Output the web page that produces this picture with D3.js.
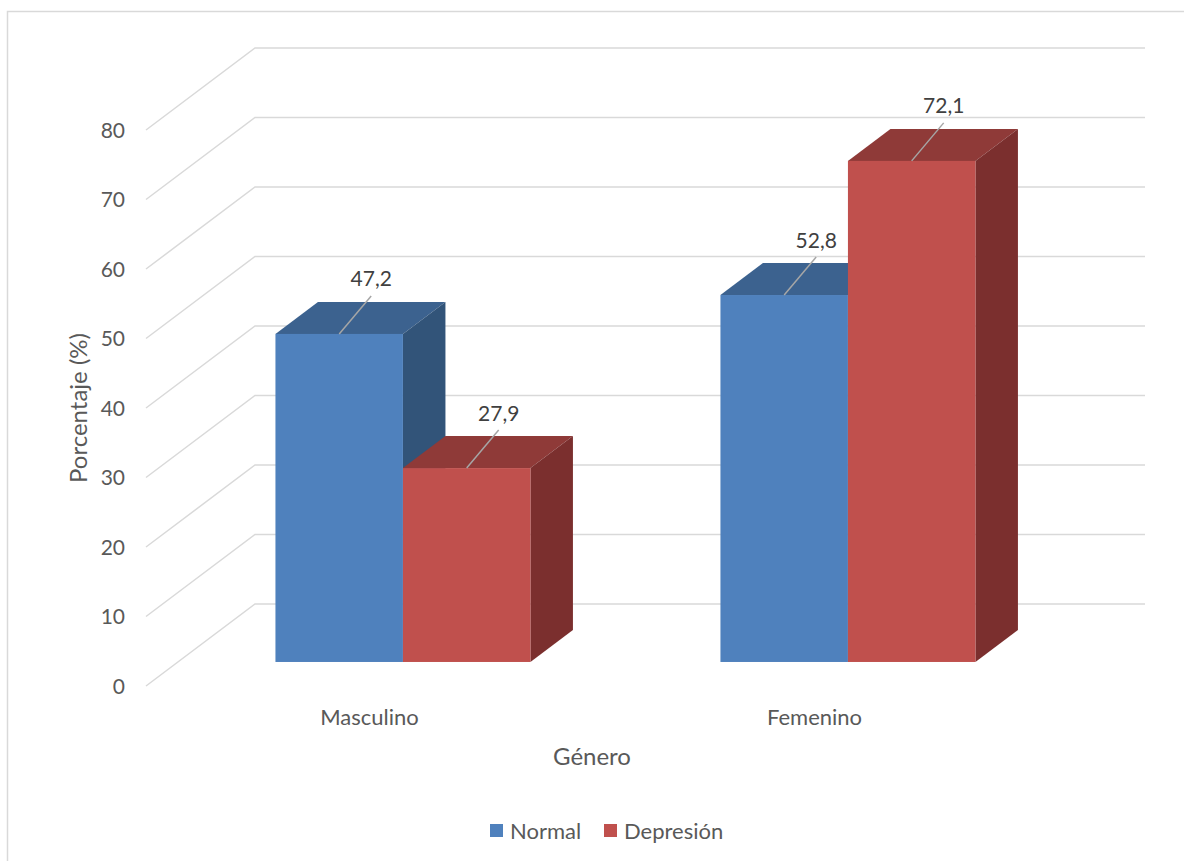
<!DOCTYPE html>
<html>
<head>
<meta charset="utf-8">
<script src="https://cdn.jsdelivr.net/npm/d3@7"></script>
<style>
  body { margin: 0; background: #fff; }
  svg text { font-family: Lato, "Noto Sans", sans-serif; }
</style>
</head>
<body>
<div id="chart"></div>
<script>
// data
var categories = ["Masculino", "Femenino"];
var seriesNames = ["Normal", "Depresión"];
var normalVals = [47.2, 52.8];
var depresionVals = [27.9, 72.1];
var yTicks = [0, 10, 20, 30, 40, 50, 60, 70, 80];

var W = 1184, H = 861;
var colors = {
  "Normal":    {front: "#4f81bd", top: "#3c628f", side: "#325479"},
  "Depresión": {front: "#c0504d", top: "#8f3a38", side: "#7b2f2e"}
};

// 3d look: full depth of the floor and where the bars sit in it
var DX = 109, DY = -82;
var f0 = 0.293, f1 = 0.683;

var svg = d3.select("#chart").append("svg")
    .attr("width", W)
    .attr("height", H);

// chart border
svg.append("rect")
    .attr("x", 7.5).attr("y", 11.5)
    .attr("width", W + 20).attr("height", H + 20)
    .attr("fill", "none")
    .attr("stroke", "#d9d9d9")
    .attr("stroke-width", 1.5);

var y = d3.scaleLinear().domain([0, 80]).range([686, 130]);
var x0 = d3.scaleBand().domain(categories).range([148.5, 1038.5]);
var x1 = d3.scaleBand().domain(seriesNames).range([0, x0.bandwidth() * 0.573]);
var groupOff = (x0.bandwidth() - x1.range()[1]) / 2;

var fmt = d3.formatLocale({decimal: ",", thousands: ".", grouping: [3], currency: ["", ""]}).format(".1f");

// gridlines (side wall + back wall)
svg.append("g").selectAll("polyline")
    .data(yTicks)
    .enter().append("polyline")
    .attr("points", function(d){
        var yy = y(d);
        return [[146, yy], [146 + DX, yy + DY], [1145, yy + DY]].join(" ");
    })
    .attr("fill", "none")
    .attr("stroke", "#d9d9d9")
    .attr("stroke-width", 1.5);

// y tick labels
svg.append("g").selectAll("text")
    .data(yTicks)
    .enter().append("text")
    .attr("x", 125)
    .attr("y", function(d){ return y(d); })
    .attr("dy", "0.36em")
    .attr("text-anchor", "end")
    .attr("font-size", 21)
    .attr("fill", "#595959")
    .text(function(d){ return d; });

// bars
var data = [];
categories.forEach(function(c, i){
    data.push({cat: c, s: "Normal", v: normalVals[i]});
    data.push({cat: c, s: "Depresión", v: depresionVals[i]});
});

var bars = svg.append("g");
data.forEach(function(d){
    var xl = x0(d.cat) + groupOff + x1(d.s) + DX * f0;
    var xr = xl + x1.bandwidth();
    var base = y(0) + DY * f0;
    var top = y(d.v) + DY * f0;
    var ddx = DX * (f1 - f0), ddy = DY * (f1 - f0);
    var c = colors[d.s];
    var g = bars.append("g");
    // top face
    g.append("polygon")
        .attr("points", [[xl, top], [xr, top], [xr + ddx, top + ddy], [xl + ddx, top + ddy]].join(" "))
        .attr("fill", c.top);
    // side face
    g.append("polygon")
        .attr("points", [[xr, top], [xr + ddx, top + ddy], [xr + ddx, base + ddy], [xr, base]].join(" "))
        .attr("fill", c.side);
    // front face
    g.append("rect")
        .attr("x", xl).attr("y", top)
        .attr("width", xr - xl).attr("height", base - top)
        .attr("fill", c.front);
    d.cx = (xl + xr) / 2;
    d.top = top;
});

// data labels with leader lines
var lab = svg.append("g");
data.forEach(function(d){
    var ex = d.cx + 32, ey = d.top - 38;
    lab.append("line")
        .attr("x1", d.cx).attr("y1", d.top)
        .attr("x2", ex).attr("y2", ey)
        .attr("stroke", "#a6a6a6")
        .attr("stroke-width", 1.5);
    lab.append("text")
        .attr("x", ex).attr("y", ey - 17)
        .attr("dy", "0.36em")
        .attr("text-anchor", "middle")
        .attr("font-size", 21)
        .attr("fill", "#404040")
        .text(fmt(d.v));
});

// category labels
svg.append("g").selectAll("text")
    .data(categories)
    .enter().append("text")
    .attr("x", function(d){ return x0(d) + x0.bandwidth() / 2 - 1.5; })
    .attr("y", 717)
    .attr("dy", "0.36em")
    .attr("text-anchor", "middle")
    .attr("font-size", 22)
    .attr("fill", "#595959")
    .text(function(d){ return d; });

// axis titles
svg.append("text")
    .attr("x", 592).attr("y", 756)
    .attr("dy", "0.36em")
    .attr("text-anchor", "middle")
    .attr("font-size", 24)
    .attr("fill", "#595959")
    .text("Género");

svg.append("text")
    .attr("transform", "translate(78,408) rotate(-90)")
    .attr("dy", "0.36em")
    .attr("text-anchor", "middle")
    .attr("font-size", 24)
    .attr("fill", "#595959")
    .text("Porcentaje (%)");

// legend
var leg = svg.append("g");
var legX = [490, 604];
seriesNames.forEach(function(s, i){
    leg.append("rect")
        .attr("x", legX[i]).attr("y", 824)
        .attr("width", 13).attr("height", 13)
        .attr("fill", colors[s].front);
    leg.append("text")
        .attr("x", legX[i] + 20).attr("y", 831)
        .attr("dy", "0.36em")
        .attr("font-size", 22)
        .attr("fill", "#595959")
        .text(s);
});
</script>
</body>
</html>
